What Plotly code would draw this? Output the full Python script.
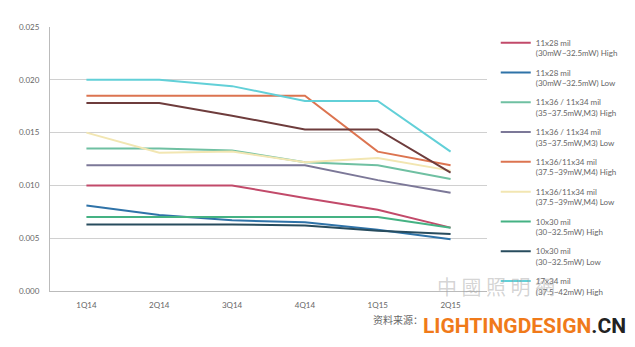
import plotly.graph_objects as go

quarters = ["1Q14", "2Q14", "3Q14", "4Q14", "1Q15", "2Q15"]

names = [
    "11x28 mil<br>(30mW~32.5mW) High",
    "11x28 mil<br>(30mW~32.5mW) Low",
    "11x36 / 11x34 mil<br>(35~37.5mW,M3) High",
    "11x36 / 11x34 mil<br>(35~37.5mW,M3) Low",
    "11x36/11x34 mil<br>(37.5~39mW,M4) High",
    "11x36/11x34 mil<br>(37.5~39mW,M4) Low",
    "10x30 mil<br>(30~32.5mW) High",
    "10x30 mil<br>(30~32.5mW) Low",
    "17x34 mil<br>(37.5~42mW) High",
    "17x34 mil<br>(37.5~42mW) Low",
]

s_11x28_high = [0.0100, 0.0100, 0.0100, 0.0088, 0.0077, 0.0060]
s_11x28_low = [0.0081, 0.0072, 0.0067, 0.0065, 0.0058, 0.0049]
s_m3_high = [0.0135, 0.0135, 0.0133, 0.0122, 0.0119, 0.0106]
s_m3_low = [0.0119, 0.0119, 0.0119, 0.0119, 0.0105, 0.0093]
s_m4_high = [0.0185, 0.0185, 0.0185, 0.0185, 0.0132, 0.0119]
s_m4_low = [0.0150, 0.0131, 0.0132, 0.0122, 0.0126, 0.0114]
s_10x30_high = [0.0070, 0.0070, 0.0070, 0.0070, 0.0070, 0.0060]
s_10x30_low = [0.0063, 0.0063, 0.0063, 0.0062, 0.0057, 0.0054]
s_17x34_high = [0.0200, 0.0200, 0.0194, 0.0180, 0.0180, 0.0132]
s_17x34_low = [0.0178, 0.0178, 0.0166, 0.0153, 0.0153, 0.0112]

series = [s_11x28_high, s_11x28_low, s_m3_high, s_m3_low, s_m4_high,
          s_m4_low, s_10x30_high, s_10x30_low, s_17x34_high, s_17x34_low]

colors = ["#c24a6a", "#2f73a8", "#6fc0a2", "#7c7898", "#dc7450",
          "#f2e6b2", "#45b283", "#284c5e", "#62d0d8", "#6e3c3c"]

yticks = [0.000, 0.005, 0.010, 0.015, 0.020, 0.025]

fig = go.Figure()
for i, (n, s, c) in enumerate(zip(names, series, colors)):
    fig.add_trace(go.Scatter(
        x=quarters, y=s, name=n, mode="lines",
        line=dict(color=c, width=2),
        legendgroup=str(i), showlegend=(i < 9),
    ))

fig.update_layout(
    width=635, height=347,
    margin=dict(l=50, r=138, t=27, b=56),
    paper_bgcolor="white", plot_bgcolor="white",
    font=dict(family="Lato, Open Sans, sans-serif", size=8, color="#666"),
    xaxis=dict(type="category", range=[-0.5, 5.5], showgrid=False,
               showline=True, linecolor="#bbb", linewidth=1,
               ticks="", tickfont=dict(size=8, color="#666"), ticklabelstandoff=6),
    yaxis=dict(range=[0, 0.025], tickvals=yticks, tickformat=".3f",
               showgrid=True, gridcolor="#d0d0d0", gridwidth=1,
               showline=True, linecolor="#bbb", linewidth=1,
               zeroline=False, ticks="", tickfont=dict(size=8, color="#666"),
               ticklabelstandoff=8),
    legend=dict(x=1.02, y=0.985, xanchor="left", yanchor="top",
                font=dict(size=8, color="#666"), tracegroupgap=6,
                itemwidth=30, valign="top", maxheight=340,
                bgcolor="rgba(0,0,0,0)"),
)

ph = 264.0
pw = 447.0

fig.add_annotation(xref="paper", yref="paper", x=(434 - 50) / pw, y=(291 - 319) / ph,
                   text="资料来源：", showarrow=False, xanchor="right", yanchor="middle",
                   font=dict(family="Noto Sans CJK SC", size=10, color="#666"))
fig.add_annotation(xref="paper", yref="paper", x=(429 - 50) / pw, y=(291 - 326) / ph,
                   text="<b><span style='color:#f07a1a'>LIGHTINGDESIGN</span><span style='color:#222'>.CN</span></b>",
                   showarrow=False, xanchor="left", yanchor="middle",
                   font=dict(family="Roboto, sans-serif", size=21))
fig.add_annotation(xref="paper", yref="paper", x=(444 - 50) / pw, y=(291 - 286) / ph,
                   text="中 國 照 明 網", showarrow=False, xanchor="left", yanchor="middle",
                   font=dict(family="Noto Sans CJK TC", size=20, color="rgba(160,160,160,0.45)"))

fig.write_html("out.html")
